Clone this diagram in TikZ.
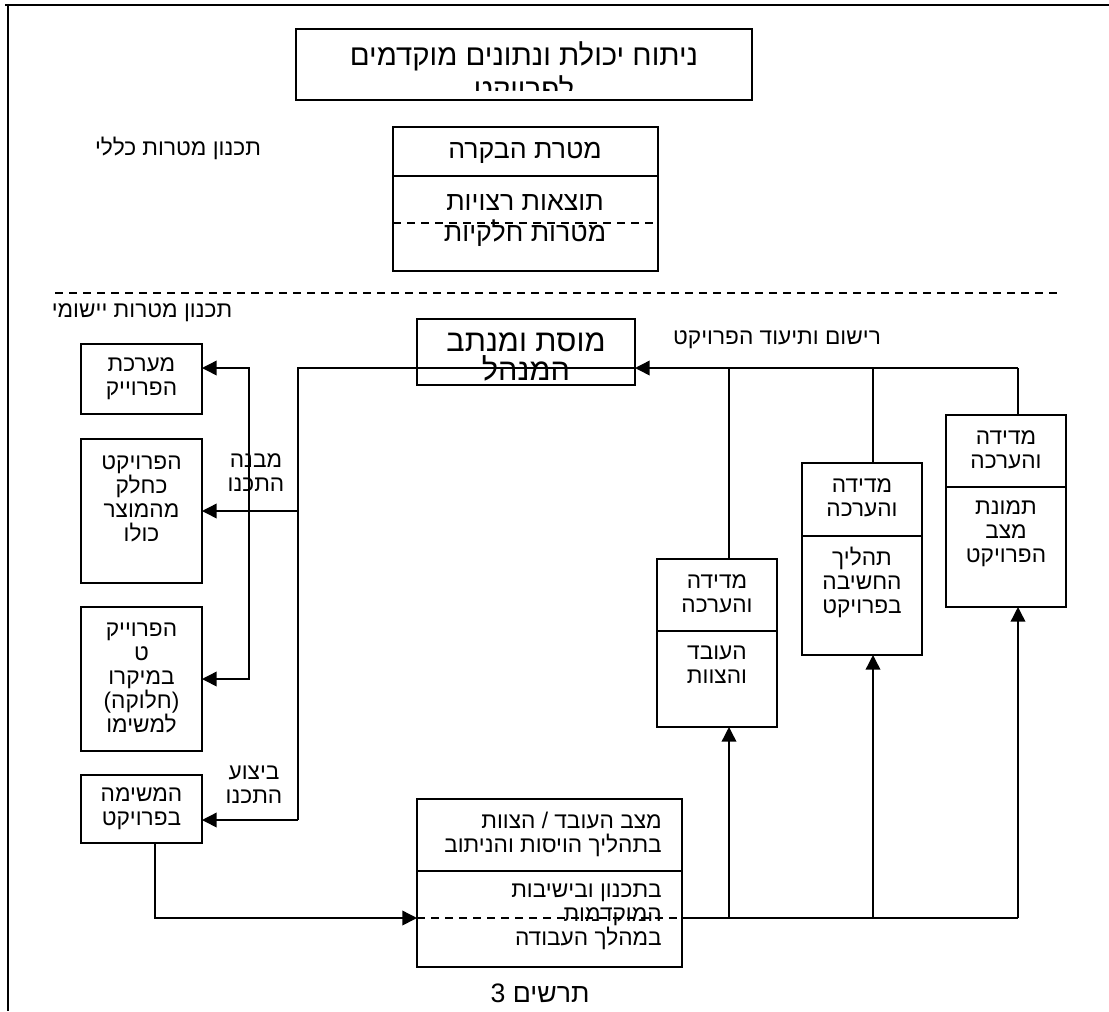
\documentclass[tikz,border=0pt]{standalone}
\usepackage{fontspec}
\setmainfont{Liberation Sans}
\newfontfamily\hebfont[Script=Hebrew]{Liberation Sans}
\TeXXeTstate=1
\usepackage{tikz}
\usetikzlibrary{arrows.meta,calc}
\newcommand{\heb}[1]{\beginR #1\endR}

\tikzset{
  box/.style={draw, line width=1.1pt, inner sep=0pt, outer sep=0pt},
  bigtxt/.style={font=\hebfont\fontsize{20}{24}\selectfont, align=center, inner sep=0pt},
  txt/.style={font=\hebfont\fontsize{17}{18}\selectfont, align=center, inner sep=0pt},
  conn/.style={line width=1.1pt},
  arr/.style={conn, -{Triangle[length=11pt,width=11pt]}},
  dashline/.style={line width=0.9pt, dash pattern=on 6pt off 4.5pt},
}

\begin{document}
\begin{tikzpicture}[x=0.75pt, y=-0.75pt]
  \useasboundingbox (0,0) rectangle (1109,1011);

  % frame
  \draw[line width=1.8pt] (5,5) -- (1109,5);
  \draw[line width=1.1pt] (8,5) -- (8,1011);

  % general planning
  \node[box, minimum width=342pt, minimum height=53.25pt] (analysis) at (524,64.5) {};
  \begin{scope}
    \clip (296,29) rectangle (752,90);
    \node[bigtxt, font=\hebfont\fontsize{22}{26}\selectfont] (analysis1) at (524,56) {\heb{ניתוח יכולת ונתונים מוקדמים}};
    \node[bigtxt, font=\hebfont\fontsize{22}{26}\selectfont] (analysis2) at (524,90) {\heb{לפרויקט}};
  \end{scope}

  \node[box, minimum width=198.75pt, minimum height=108pt] (goal) at (525.5,199) {};
  \draw[conn] (393,176) -- (658,176);
  \draw[dashline] (393,223) -- (658,223);
  \node[bigtxt] (goal1) at (525,153) {\heb{מטרת הבקרה}};
  \node[bigtxt] (goal2) at (525,203) {\heb{תוצאות רצויות}};
  \node[bigtxt] (goal3) at (525,233) {\heb{מטרות חלקיות}};

  \node[txt] (general) at (178,148) {\heb{תכנון מטרות כללי}};

  % split line
  \draw[dashline] (55,293) -- (1058,293);
  \node[txt] (applied) at (142,313) {\heb{תכנון מטרות יישומי}};

  % manager
  \node[box, minimum width=163.5pt, minimum height=49.5pt] (mgr) at (526,352) {};
  \node[bigtxt, font=\hebfont\fontsize{23}{22}\selectfont] (mgrtxt) at (526,357) {\heb{מוסת ומנתב}\\\heb{המנהל}};
  \node[txt] (record) at (777,340) {\heb{רישום ותיעוד הפרויקט}};

  % left column
  \node[box, minimum width=90.75pt, minimum height=52.5pt] (sys) at (141.5,379) {};
  \node[txt] (systxt) at (141.5,379) {\heb{מערכת}\\\heb{הפרוייק}};
  \node[box, minimum width=90.75pt, minimum height=108pt] (whole) at (141.5,511) {};
  \node[txt] (wholetxt) at (141.5,499) {\heb{הפרויקט}\\\heb{כחלק}\\\heb{מהמוצר}\\\heb{כולו}};
  \node[box, minimum width=90.75pt, minimum height=108pt] (micro) at (141.5,679) {};
  \node[txt] (microtxt) at (141.5,678) {\heb{הפרוייק}\\\heb{ט}\\\heb{במיקרו}\\\heb{(חלוקה)}\\\heb{למשימו}};
  \node[box, minimum width=90.75pt, minimum height=51pt] (task) at (141.5,809) {};
  \node[txt] (tasktxt) at (141.5,808.5) {\heb{המשימה}\\\heb{בפרויקט}};

  \node[txt] (build) at (256,473) {\heb{מבנה}\\\heb{התכנו}};
  \node[txt] (run) at (254,785) {\heb{ביצוע}\\\heb{התכנו}};

  % right column
  \node[box, minimum width=90pt, minimum height=126pt] (eval1) at (717,643) {};
  \draw[conn] (657,631) -- (777,631);
  \node[txt] (eval1a) at (717,594) {\heb{מדידה}\\\heb{והערכה}};
  \node[txt] (eval1b) at (717,665) {\heb{העובד}\\\heb{והצוות}};
  \node[box, minimum width=90pt, minimum height=144pt] (eval2) at (862,559) {};
  \draw[conn] (802,536) -- (922,536);
  \node[txt] (eval2a) at (862,498) {\heb{מדידה}\\\heb{והערכה}};
  \node[txt] (eval2b) at (862,582) {\heb{תהליך}\\\heb{החשיבה}\\\heb{בפרויקט}};
  \node[box, minimum width=90pt, minimum height=144pt] (eval3) at (1006,511) {};
  \draw[conn] (946,487) -- (1066,487);
  \node[txt] (eval3a) at (1006,450) {\heb{מדידה}\\\heb{והערכה}};
  \node[txt] (eval3b) at (1006,534) {\heb{תמונת}\\\heb{מצב}\\\heb{הפרויקט}};

  % bottom box
  \node[box, minimum width=198.75pt, minimum height=126pt] (state) at (549.5,883) {};
  \draw[conn] (417,871) -- (682,871);
  \node[txt, anchor=east, align=right] (state1) at (662,834) {\heb{מצב העובד / הצוות}\\\heb{בתהליך הויסות והניתוב}};
  \node[txt, anchor=east, align=right] (state2) at (662,917) {\heb{בתכנון ובישיבות}\\\heb{המוקדמות}\\\heb{במהלך העבודה}};
  \node[bigtxt] (caption) at (540,993) {\heb{תרשים 3}};

  % connectors
  \coordinate (top1) at (729,368);
  \coordinate (top2) at (873,368);
  \coordinate (top3) at (1018,368);
  \coordinate (left1) at (298,368);
  \coordinate (left2) at (249,368);
  \coordinate (left3) at (249,679);
  \coordinate (left4) at (298,820);
  \coordinate (low0) at (155,918);
  \coordinate (low3) at (1018,918);

  \draw[arr] (top3) -- (mgr.east |- top3);
  \draw[conn] (mgr.east |- top3) -- (left1) -- (left4);
  \draw[arr] (left4) -- (left4 -| task.east);
  \draw[arr] (left1 |- whole.east) -- (whole.east);
  \draw[conn, {Triangle[length=11pt,width=11pt]}-{Triangle[length=11pt,width=11pt]}] (left2 -| sys.east) -- (left2) -- (left3) -- (micro.east);

  \draw[conn] (top1) -- (top1 |- eval1.north);
  \draw[conn] (top2) -- (top2 |- eval2.north);
  \draw[conn] (top3) -- (top3 |- eval3.north);

  \draw[arr] (low0 |- task.south) -- (low0) -- (low0 -| state.west);
  \draw[dashline] (low0 -| state.west) -- (low0 -| state.east);
  \draw[conn] (low0 -| state.east) -- (low3);
  \draw[arr] (low3 -| top1) -- (top1 |- eval1.south);
  \draw[arr] (low3 -| top2) -- (top2 |- eval2.south);
  \draw[arr] (low3) -- (top3 |- eval3.south);
\end{tikzpicture}
\end{document}
